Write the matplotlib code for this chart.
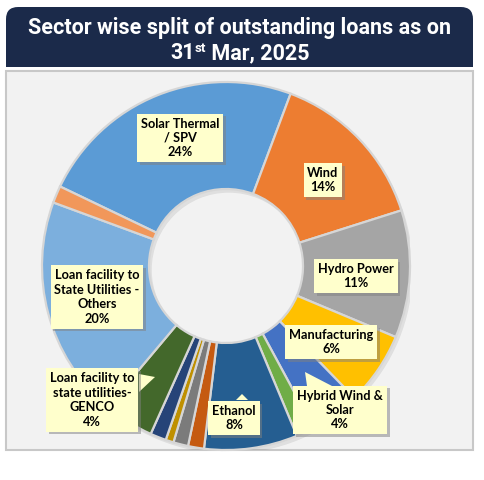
import matplotlib
matplotlib.use("Agg")
import matplotlib.pyplot as plt
from matplotlib.patches import FancyBboxPatch, Rectangle, Polygon, Wedge
from matplotlib import patheffects as pe

# sector shares (%), clockwise from the Solar slice
sectors = ["Solar Thermal\n/ SPV", "Wind", "Hydro Power", "Manufacturing",
           "Hybrid Wind &\nSolar", "Biomass", "Ethanol", "Waste to Energy",
           "Energy Efficiency", "Green Hydrogen", "Transmission",
           "Loan facility to\nstate utilities-\nGENCO",
           "Loan facility to\nState Utilities -\nOthers", "Misc"]
shares = [23.6, 14.4, 11.2, 6.4, 4.4, 1.6, 8.2, 1.4, 1.3, 0.7, 1.4, 4.4, 19.5, 1.5]
show_label = [True, True, True, True, True, False, True, False, False, False,
              False, True, True, False]
colors = ["#5B9BD5", "#ED7D31", "#A5A5A5", "#FFC000", "#4472C4", "#70AD47",
          "#255E91", "#C55A11", "#7B7B7B", "#BF9000", "#264478", "#43682B",
          "#7CAFDD", "#F1975A"]

# label box centres in pixels (layout)
label_pos = {0: (180, 138), 1: (323, 180), 2: (356, 276), 3: (331, 342),
             4: (340, 410), 6: (234, 418), 11: (92, 400), 12: (97, 297)}

W, H = 484, 480
CX, CY, R = 226, 266, 184
HOLE = 77

fig = plt.figure(figsize=(W / 100, H / 100), dpi=100)
fig.patch.set_facecolor("white")

# panel
panel = Rectangle((6 / W, 1 - 450 / H), 467 / W, 379 / H, transform=fig.transFigure,
                  facecolor="#F2F2F2", edgecolor="#C8C8C8", lw=1.5, zorder=0)
fig.add_artist(panel)

# title box, rounded at the top
navy = "#1B2A4A"
tb = FancyBboxPatch((6 / W, 1 - 67 / H), 467 / W, 60 / H,
                    boxstyle="round,pad=0,rounding_size=0.025",
                    transform=fig.transFigure, facecolor=navy, edgecolor="none",
                    mutation_aspect=W / H, zorder=1)
fig.add_artist(tb)
fig.add_artist(Rectangle((6 / W, 1 - 67 / H), 467 / W, 20 / H, transform=fig.transFigure,
                         facecolor=navy, edgecolor="none", zorder=1))

tfont = dict(family="Roboto", weight="bold", color="white", size=15.5)
fig.text(240 / W, 1 - 28 / H, "Sector wise split of outstanding loans as on",
         ha="center", va="center", zorder=2, **tfont)

renderer = fig.canvas.get_renderer()
parts = [("31", 15.5, 0), ("st", 9.5, 7), (" Mar, 2025", 15.5, 0)]
objs = []
for s, size, rise in parts:
    t = fig.text(0, 0, s, ha="left", va="baseline", zorder=2,
                 **{**tfont, "size": size})
    objs.append((t, rise))
widths = [t.get_window_extent(renderer).width for t, _ in objs]
x0 = 240 - sum(widths) / 2
base = 59
for (t, rise), w in zip(objs, widths):
    t.set_position((x0 / W, 1 - (base - rise) / H))
    x0 += w

# donut
ax = fig.add_axes([(CX - R) / W, (H - CY - R) / H, 2 * R / W, 2 * R / H])
ax.axis("off")

start = 90 + 64.4
ax.pie(shares, colors=colors, startangle=start, counterclock=False, radius=1,
       wedgeprops=dict(width=1 - HOLE / R, edgecolor="#D6D6D6", linewidth=1.6))
ax.set_xlim(-1, 1)
ax.set_ylim(-1, 1)
ax.set_aspect("equal")
# soft shadow round the ring
ax.add_patch(Wedge((0.015, -0.02), 1.0, 0, 360, width=1 - HOLE / R,
                   fc="#000000", alpha=0.08, ec="none", zorder=0))


def px(x, y):
    return ((x - CX) / R, (CY - y) / R)


lfont = dict(family="Lato", weight="bold", size=9.2, color="black")
box_fc = "#FFFFCC"
for i, (name, val) in enumerate(zip(sectors, shares)):
    if not show_label[i]:
        continue
    x, y = px(*label_pos[i])
    t = ax.text(x, y, f"{name}\n{val:.0f}%", ha="center", va="center",
                linespacing=1.25, zorder=5, **lfont,
                bbox=dict(boxstyle="square,pad=0.3", fc=box_fc, ec="none"))
    t.get_bbox_patch().set_path_effects(
        [pe.SimplePatchShadow(offset=(2, -2), shadow_rgbFace="#808080", alpha=0.5),
         pe.Normal()])

# callout pointers
pointers = [[(305, 372), (307, 386), (332, 386)],
            [(155, 377), (139, 374), (139, 392)],
            [(242, 394), (236, 400), (248, 400)]]
for tri in pointers:
    ax.add_patch(Polygon([px(*p) for p in tri], closed=True, fc=box_fc, ec="none",
                         zorder=4))

fig.savefig("out.png", dpi=100)
